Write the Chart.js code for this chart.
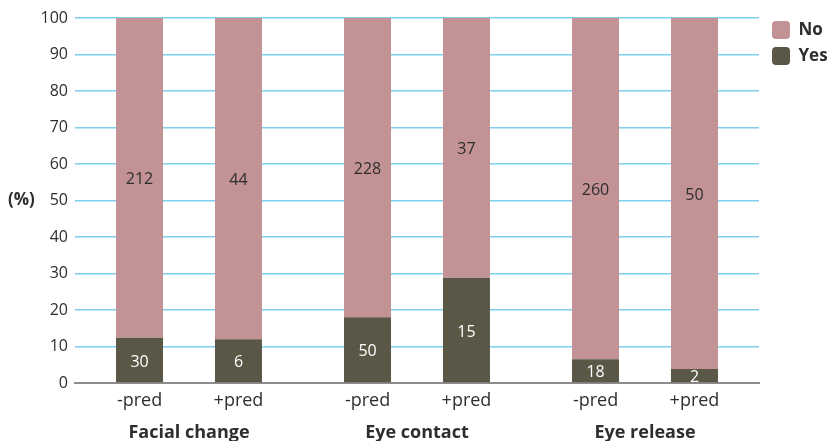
<!DOCTYPE html>
<html>
<head>
<meta charset="utf-8">
<script src="https://cdn.jsdelivr.net/npm/chart.js@4/dist/chart.umd.min.js"></script>
<style>
  html, body { margin: 0; padding: 0; background: #fff; }
  #wrap { width: 831px; height: 441px; position: relative; }
</style>
</head>
<body>
<div id="wrap"><canvas id="c" width="831" height="441"></canvas></div>
<script>
// Behaviours compared across three cue types, without (-pred) and with (+pred) prediction
const groups = ['Facial change', 'Eye contact', 'Eye release'];
const conditions = ['-pred', '+pred'];

// Observation counts per group
const yesMinus = [30, 50, 18];
const noMinus  = [212, 228, 260];
const yesPlus  = [6, 15, 2];
const noPlus   = [44, 37, 50];

const yTicks = [0, 10, 20, 30, 40, 50, 60, 70, 80, 90, 100];

const COLOR_NO = '#c29294';
const COLOR_YES = '#5a5747';
const FONT = '"Open Sans", "DejaVu Sans", sans-serif';

// share of each count within its bar, in percent
const pct = (part, a, b) => part.map((v, i) => v / (a[i] + b[i]) * 100);

const datasets = [
  { label: 'Yes', stack: conditions[0], data: pct(yesMinus, yesMinus, noMinus), counts: yesMinus, backgroundColor: COLOR_YES, textColor: '#ffffff' },
  { label: 'No',  stack: conditions[0], data: pct(noMinus, yesMinus, noMinus),  counts: noMinus,  backgroundColor: COLOR_NO,  textColor: '#2e2e2e' },
  { label: 'Yes', stack: conditions[1], data: pct(yesPlus, yesPlus, noPlus),    counts: yesPlus,  backgroundColor: COLOR_YES, textColor: '#ffffff' },
  { label: 'No',  stack: conditions[1], data: pct(noPlus, yesPlus, noPlus),     counts: noPlus,   backgroundColor: COLOR_NO,  textColor: '#2e2e2e' }
];

// counts written in the middle of each segment
const countLabels = {
  id: 'countLabels',
  afterDatasetsDraw(chart) {
    const ctx = chart.ctx;
    ctx.save();
    ctx.font = '16px ' + FONT;
    ctx.textAlign = 'center';
    ctx.textBaseline = 'middle';
    chart.data.datasets.forEach((ds, di) => {
      chart.getDatasetMeta(di).data.forEach((bar, i) => {
        ctx.fillStyle = ds.textColor;
        ctx.fillText(String(ds.counts[i]), bar.x, (bar.y + bar.base) / 2 + 2);
      });
    });
    ctx.restore();
  }
};

// condition names under each bar, and the horizontal y-axis title
const extraText = {
  id: 'extraText',
  afterDraw(chart) {
    const ctx = chart.ctx;
    const area = chart.chartArea;
    ctx.save();
    ctx.fillStyle = '#2e2e2e';
    ctx.textAlign = 'center';
    ctx.textBaseline = 'middle';
    ctx.font = '18px ' + FONT;
    [0, 2].forEach((di, k) => {
      chart.getDatasetMeta(di).data.forEach(bar => {
        ctx.fillText(conditions[k], bar.x, area.bottom + 18);
      });
    });
    ctx.font = 'bold 17px ' + FONT;
    ctx.textAlign = 'left';
    ctx.fillText('(%)', 8, chart.scales.y.getPixelForValue(50));
    ctx.restore();
  }
};

// place the legend just right of the plot, level with its top
const legendPlacement = {
  id: 'legendPlacement',
  afterLayout(chart) {
    const lg = chart.legend;
    if (!lg) return;
    const w = lg.width;
    lg.left = chart.chartArea.right + 5;
    lg.right = lg.left + w;
    lg.top = chart.chartArea.top - 5;
  }
};

new Chart(document.getElementById('c'), {
  type: 'bar',
  data: { labels: groups, datasets },
  plugins: [countLabels, extraText, legendPlacement],
  options: {
    responsive: false,
    animation: false,
    layout: { padding: { top: 18, left: 0, right: 0, bottom: 0 } },
    datasets: {
      bar: { categoryPercentage: 0.868, barPercentage: 0.475, borderWidth: 0 }
    },
    plugins: {
      tooltip: { enabled: false },
      legend: {
        position: 'right',
        align: 'start',
        reverse: true,
        maxWidth: 72,
        labels: {
          filter: item => item.datasetIndex < 2,
          boxWidth: 18,
          boxHeight: 18,
          useBorderRadius: true,
          borderRadius: 4,
          padding: 8,
          color: '#2e2e2e',
          font: { family: FONT, size: 17, weight: 'bold' }
        }
      }
    },
    scales: {
      x: {
        stacked: true,
        grid: { display: false, drawTicks: false },
        border: { display: true, color: '#8c8c8c', width: 2 },
        ticks: {
          padding: 39,
          color: '#2e2e2e',
          font: { family: FONT, size: 18, weight: 'bold' }
        },
        afterFit(scale) { scale.height = 58; }
      },
      y: {
        stacked: true,
        min: 0,
        max: 100,
        afterBuildTicks(scale) { scale.ticks = yTicks.map(v => ({ value: v })); },
        grid: { color: '#7fd0ee', lineWidth: 1.5, drawTicks: false },
        border: { display: false },
        ticks: {
          padding: 7,
          color: '#2e2e2e',
          font: { family: FONT, size: 16 }
        },
        afterFit(scale) { scale.width = 75; }
      }
    }
  }
});
</script>
</body>
</html>
